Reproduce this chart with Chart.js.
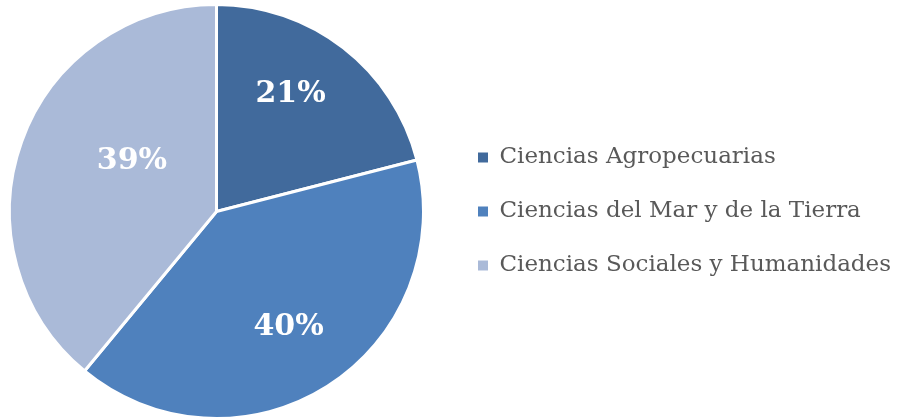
<!DOCTYPE html>
<html>
<head>
<meta charset="utf-8">
<script src="https://cdn.jsdelivr.net/npm/chart.js"></script>
<style>
  html, body { margin: 0; padding: 0; background: #fff; }
  #wrap { width: 899px; height: 420px; overflow: hidden; position: relative; }
  #pieChart { position: absolute; left: -14px; top: 0; }
</style>
</head>
<body>
<div id="wrap"><canvas id="pieChart" width="915" height="420"></canvas></div>
<script>
// data
const categories = ['Ciencias Agropecuarias', 'Ciencias del Mar y de la Tierra', 'Ciencias Sociales y Humanidades'];
const shares = [21, 40, 39];
const sliceColors = ['#416a9c', '#4f81bd', '#aabad8'];

// where each percentage sits inside its slice (fraction of arc, fraction of radius)
const labelAlong = [0.42, 0.5, 0.585];
const labelRadius = [0.68, 0.65, 0.48];

const pctLabels = {
  id: 'pctLabels',
  afterDatasetsDraw(chart) {
    const ctx = chart.ctx;
    const meta = chart.getDatasetMeta(0);
    ctx.save();
    ctx.fillStyle = '#ffffff';
    ctx.font = 'bold 30px "DejaVu Serif"';
    ctx.textAlign = 'center';
    ctx.textBaseline = 'middle';
    meta.data.forEach((arc, i) => {
      const p = arc.getProps(['x', 'y', 'startAngle', 'endAngle', 'outerRadius']);
      const a = p.startAngle + (p.endAngle - p.startAngle) * labelAlong[i];
      const r = p.outerRadius * labelRadius[i];
      ctx.fillText(shares[i] + '%', p.x + Math.cos(a) * r, p.y + Math.sin(a) * r + 2);
    });
    ctx.restore();
  }
};

const ctx = document.getElementById('pieChart').getContext('2d');
const chart = new Chart(ctx, {
  type: 'pie',
  data: {
    labels: categories,
    datasets: [{
      data: shares,
      backgroundColor: sliceColors,
      borderColor: '#ffffff',
      borderWidth: 3
    }]
  },
  options: {
    responsive: false,
    animation: false,
    layout: { padding: { top: 3, bottom: 0, left: 0, right: 0 } },
    plugins: {
      tooltip: { enabled: false },
      legend: {
        position: 'right',
        labels: {
          boxWidth: 10,
          boxHeight: 10,
          padding: 31,
          color: '#595959',
          font: { family: '"DejaVu Serif"', size: 23 },
          generateLabels(chart) {
            return categories.map((c, i) => ({
              text: c,
              fillStyle: sliceColors[i],
              strokeStyle: sliceColors[i],
              lineWidth: 0,
              fontColor: '#595959',
              index: i,
              hidden: false
            }));
          }
        }
      }
    }
  },
  plugins: [pctLabels]
});
</script>
</body>
</html>
